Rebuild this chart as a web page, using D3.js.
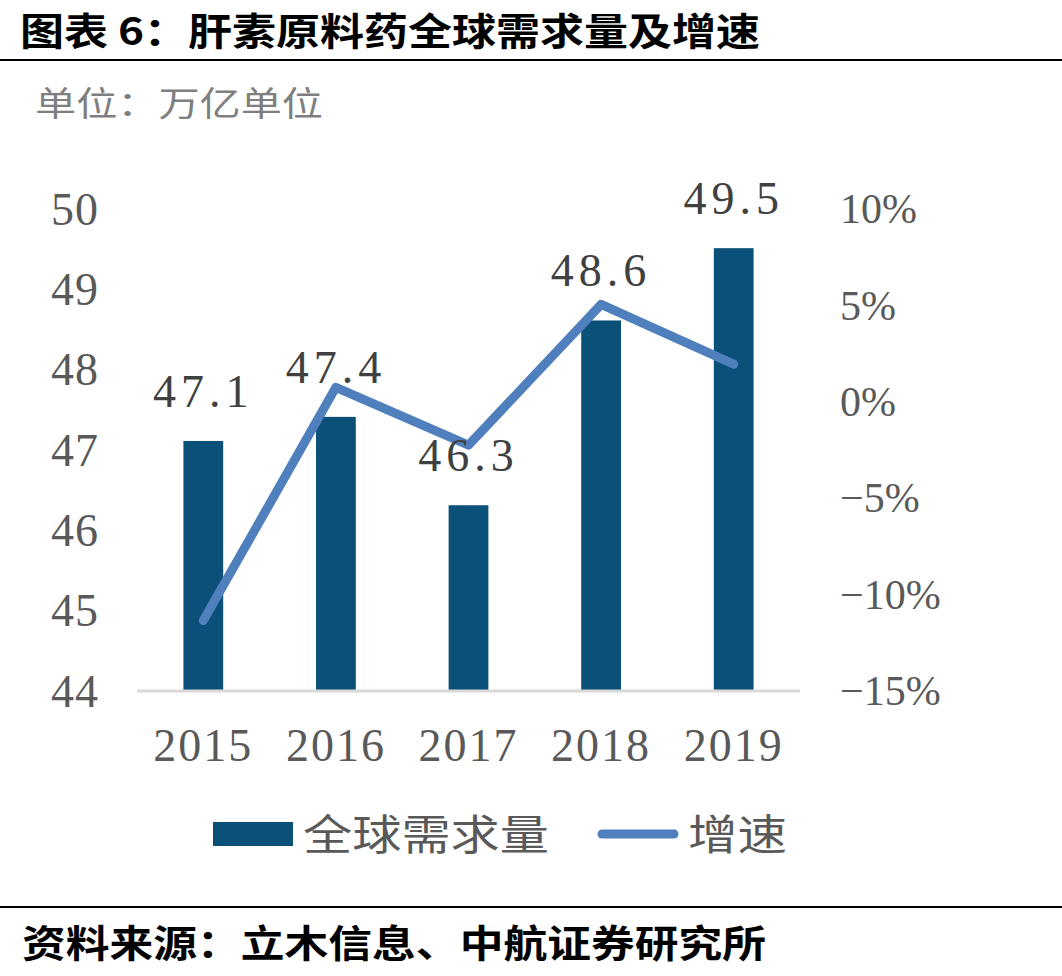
<!DOCTYPE html>
<html>
<head>
<meta charset="utf-8">
<script src="https://cdn.jsdelivr.net/npm/d3@7"></script>
<style>
  body { margin: 0; background: #fff; }
  .num { font-family: "Liberation Serif", "DejaVu Serif", serif; fill: #595959; }
  .cjk { font-family: "Noto Sans CJK SC", sans-serif; }
</style>
</head>
<body>
<svg width="1062" height="976"></svg>
<script>
// data
var years = ["2015", "2016", "2017", "2018", "2019"];
var demand = [47.1, 47.4, 46.3, 48.6, 49.5];
var growth = [-11.4, 0.7, -2.3, 5.0, 1.9];
var leftTicks = [44, 45, 46, 47, 48, 49, 50];
var rightTicks = [-15, -10, -5, 0, 5, 10];

var barColor = "#0b5079",
    lineColor = "#4f80bd",
    textGray = "#595959";

var svg = d3.select("svg"),
    width = +svg.attr("width"),
    height = +svg.attr("height");

// title + rules
svg.append("text")
    .attr("class", "cjk")
    .attr("x", 20).attr("y", 45)
    .attr("font-size", 38).attr("font-weight", "bold")
    .attr("textLength", 740).attr("lengthAdjust", "spacingAndGlyphs")
    .text("图表 6：肝素原料药全球需求量及增速");

svg.append("line")
    .attr("x1", 0).attr("x2", width)
    .attr("y1", 60).attr("y2", 60)
    .attr("stroke", "#000").attr("stroke-width", 2);

svg.append("text")
    .attr("class", "cjk")
    .attr("x", 35).attr("y", 116)
    .attr("font-size", 34).attr("fill", "#7f7f7f")
    .attr("textLength", 288).attr("lengthAdjust", "spacingAndGlyphs")
    .text("单位：万亿单位");

svg.append("line")
    .attr("x1", 0).attr("x2", width)
    .attr("y1", 907).attr("y2", 907)
    .attr("stroke", "#000").attr("stroke-width", 2);

svg.append("text")
    .attr("class", "cjk")
    .attr("x", 22).attr("y", 957)
    .attr("font-size", 38).attr("font-weight", "bold")
    .attr("textLength", 744).attr("lengthAdjust", "spacingAndGlyphs")
    .text("资料来源：立木信息、中航证券研究所");

// scales
var x = d3.scaleBand().domain(years).range([137, 800]).paddingInner(0.7).paddingOuter(0.35);
var y = d3.scaleLinear().domain([44, 50]).range([690, 208]);
var y2 = d3.scaleLinear().domain([-15, 10]).range([690, 208]);

// axes
var leftAxis = svg.append("g")
    .attr("transform", "translate(99,0)")
    .call(d3.axisLeft(y).tickValues(leftTicks).tickSize(0).tickPadding(0).tickFormat(d3.format("d")));
leftAxis.select(".domain").remove();
leftAxis.selectAll("text")
    .attr("class", "num")
    .attr("font-size", 46)
    .attr("letter-spacing", 1)
    .attr("dy", "0.35em")
    .style("fill", textGray);

var rightAxis = svg.append("g")
    .attr("transform", "translate(840,0)")
    .call(d3.axisRight(y2).tickValues(rightTicks).tickSize(0).tickPadding(0)
        .tickFormat(function(d) { return (d < 0 ? "\u2212" + Math.abs(d) : d) + "%"; }));
rightAxis.select(".domain").remove();
rightAxis.selectAll("text")
    .attr("class", "num")
    .attr("font-size", 42)
    .attr("dy", "0.35em")
    .style("fill", textGray);

var bottomAxis = svg.append("g")
    .attr("transform", "translate(0,690)")
    .call(d3.axisBottom(x).tickSize(0).tickPadding(0));
bottomAxis.select(".domain").remove();
bottomAxis.selectAll("text")
    .attr("class", "num")
    .attr("font-size", 46)
    .attr("letter-spacing", 2)
    .attr("dy", "1.55em")
    .style("fill", textGray);

// bars
svg.append("g")
    .selectAll("rect")
    .data(demand)
    .enter().append("rect")
      .attr("x", function(d, i) { return x(years[i]); })
      .attr("y", function(d) { return y(d); })
      .attr("width", x.bandwidth())
      .attr("height", function(d) { return y(44) - y(d); })
      .attr("fill", barColor);

// baseline
svg.append("line")
    .attr("x1", 137).attr("x2", 800)
    .attr("y1", y(44) + 1).attr("y2", y(44) + 1)
    .attr("stroke", "#d9d9d9").attr("stroke-width", 3);

// growth line
var line = d3.line()
    .x(function(d, i) { return x(years[i]) + x.bandwidth() / 2; })
    .y(function(d) { return y2(d); });

svg.append("path")
    .datum(growth)
    .attr("d", line)
    .attr("fill", "none")
    .attr("stroke", lineColor)
    .attr("stroke-width", 9)
    .attr("stroke-linecap", "round")
    .attr("stroke-linejoin", "round");

// value labels
svg.append("g")
    .selectAll("text")
    .data(demand)
    .enter().append("text")
      .attr("class", "num")
      .attr("x", function(d, i) { return x(years[i]) + x.bandwidth() / 2; })
      .attr("y", function(d) { return y(d) - 34; })
      .attr("text-anchor", "middle")
      .attr("font-size", 46)
      .attr("letter-spacing", 5)
      .style("fill", "#404040")
      .text(function(d) { return d.toFixed(1); });

// legend
var legend = svg.append("g");
legend.append("rect")
    .attr("x", 213).attr("y", 822)
    .attr("width", 80).attr("height", 24)
    .attr("fill", barColor);
legend.append("text")
    .attr("class", "cjk")
    .attr("x", 303).attr("y", 850)
    .attr("font-size", 42).attr("fill", textGray)
    .attr("textLength", 246).attr("lengthAdjust", "spacingAndGlyphs")
    .text("全球需求量");
legend.append("line")
    .attr("x1", 602).attr("x2", 674)
    .attr("y1", 834).attr("y2", 834)
    .attr("stroke", lineColor).attr("stroke-width", 9)
    .attr("stroke-linecap", "round");
legend.append("text")
    .attr("class", "cjk")
    .attr("x", 688).attr("y", 850)
    .attr("font-size", 42).attr("fill", textGray)
    .attr("textLength", 99).attr("lengthAdjust", "spacingAndGlyphs")
    .text("增速");
</script>
</body>
</html>
